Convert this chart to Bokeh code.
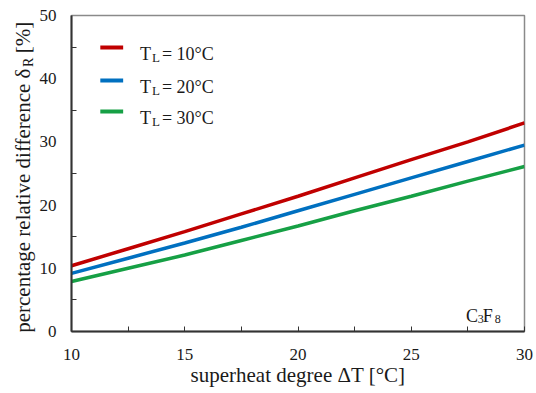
import math
from bokeh.plotting import figure
from bokeh.layouts import row
from bokeh.models import FixedTicker, Label, Range1d
from bokeh.embed import file_html
from bokeh.resources import INLINE

# ---- data ----
superheat = [10, 12.5, 15, 17.5, 20, 22.5, 25, 27.5, 30]
delta_TL10 = [10.4, 13.1, 15.8, 18.6, 21.4, 24.3, 27.2, 30.0, 33.0]
delta_TL20 = [9.2, 11.6, 14.0, 16.5, 19.1, 21.7, 24.3, 26.9, 29.5]
delta_TL30 = [7.9, 10.0, 12.1, 14.4, 16.7, 19.1, 21.4, 23.8, 26.1]
series_names = ["10°C", "20°C", "30°C"]
x_ticks = [10, 15, 20, 25, 30]
x_minor = [12.5, 17.5, 22.5, 27.5]
y_ticks = [0, 10, 20, 30, 40, 50]
y_minor = [5, 15, 25, 35, 45]
x_title = "superheat degree ΔT [°C]"
y_title_main = "percentage relative difference δ"
y_title_sub = "R"
y_title_unit = "[%]"

# ---- styles / layout ----
COLORS = ["#C00000", "#0070C0", "#16A045"]
FONT = "Liberation Serif"
TXT = "#1a1a1a"
W, H = 536, 393
LW = 36                              # width of the strip holding the y title
FL, FR, FT, FB = 68, 524, 15, 331    # frame edges in page px

# ---- strip with the rotated y-axis title ----
s = figure(width=LW, height=H, output_backend="svg", toolbar_location=None,
           x_range=Range1d(0, LW), y_range=Range1d(0, H),
           x_axis_location=None, y_axis_location=None,
           min_border=0)
s.xgrid.visible = False
s.ygrid.visible = False
s.outline_line_color = None
s.background_fill_color = "white"
s.border_fill_color = "white"

def slab(txt, px, py, size, align="left"):
    s.add_layout(Label(x=px, y=H - py, text=txt, text_font=FONT,
                       text_font_size=f"{size}px", text_color=TXT,
                       text_align=align, text_baseline="alphabetic",
                       angle=math.pi / 2))

slab(y_title_main, 22, 66, 21, align="right")
slab(y_title_sub, 28, 64, 14)
slab(y_title_unit, 22, 47, 21)

# ---- main chart ----
p = figure(width=W - LW, height=H, output_backend="svg", toolbar_location=None,
           x_range=Range1d(10, 30), y_range=Range1d(0, 50),
           min_border_left=FL - LW, min_border_right=W - FR,
           min_border_top=FT, min_border_bottom=H - FB)
p.xgrid.visible = False
p.ygrid.visible = False
p.outline_line_color = "#8a8a8a"
p.outline_line_width = 1.5
p.background_fill_color = "white"
p.border_fill_color = "white"

for ax in (p.xaxis[0], p.yaxis[0]):
    ax.axis_line_color = "#333333"
    ax.axis_line_width = 2
    ax.major_tick_line_color = "#333333"
    ax.minor_tick_line_color = "#333333"
    ax.major_tick_out = 0
    ax.minor_tick_out = 0
    ax.major_label_text_font = FONT
    ax.major_label_text_font_size = "17px"
    ax.major_label_text_color = TXT

xa = p.xaxis[0]
xa.ticker = FixedTicker(ticks=x_ticks, minor_ticks=x_minor)
xa.major_tick_in = 5
xa.minor_tick_in = 5
xa.major_label_standoff = 17
xa.axis_label = x_title
xa.axis_label_text_font = FONT
xa.axis_label_text_font_size = "21px"
xa.axis_label_text_font_style = "normal"
xa.axis_label_text_color = TXT
xa.axis_label_standoff = 0

ya = p.yaxis[0]
ya.ticker = FixedTicker(ticks=y_ticks, minor_ticks=y_minor)
ya.major_tick_in = 0
ya.minor_tick_in = 5
ya.major_label_standoff = 15

for ys, c in zip([delta_TL10, delta_TL20, delta_TL30], COLORS):
    p.line(superheat, ys, line_color=c, line_width=3.5)

def dx(px):
    return 10 + (px - FL) * 20.0 / (FR - FL)

def dy(py):
    return (FB - py) * 50.0 / (FB - FT)

def lab(txt, px, py, size, align="left"):
    p.add_layout(Label(x=dx(px), y=dy(py), text=txt, text_font=FONT,
                       text_font_size=f"{size}px", text_color=TXT,
                       text_align=align, text_baseline="alphabetic"))

# legend
row_line_y = [47, 80, 111]
for name, c, ly in zip(series_names, COLORS, row_line_y):
    p.segment(x0=[dx(97)], y0=[dy(ly)], x1=[dx(120)], y1=[dy(ly)],
              line_color=c, line_width=4)
    by = ly + 6
    lab("T", 137, by, 18)
    lab("L", 149, by + 4, 13)
    lab("= " + name, 159, by, 18)

# substance label C3F8
lab("C", 465, 315, 18)
lab("3", 477, 318, 12)
lab("F", 482, 315, 18)
lab("8", 494, 318, 12)

layout = row(s, p)
open("out.html", "w").write(file_html(layout, INLINE))
